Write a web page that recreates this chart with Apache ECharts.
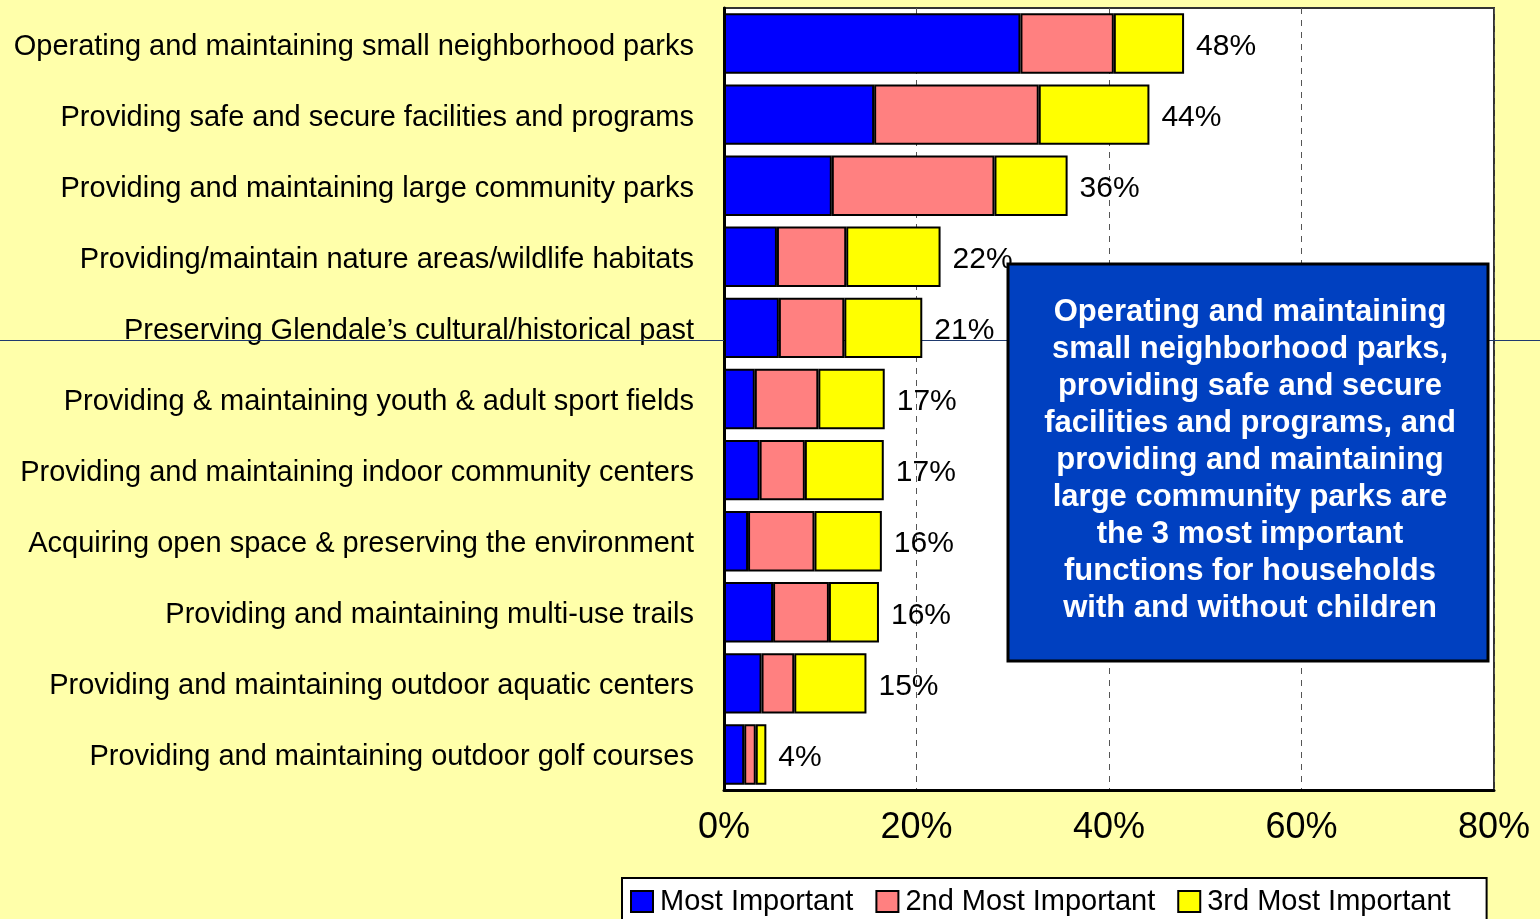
<!DOCTYPE html>
<html>
<head>
<meta charset="utf-8">
<script src="https://cdn.jsdelivr.net/npm/echarts@6/dist/echarts.min.js"></script>
<style>
  html, body { margin: 0; padding: 0; background: #ffffaa; }
  #main { width: 1540px; height: 919px; }
</style>
</head>
<body>
<div id="main"></div>
<script>
// Categorias (de arriba hacia abajo)
var categories = [
    'Operating and maintaining small neighborhood parks',
    'Providing safe and secure facilities and programs',
    'Providing and maintaining large community parks',
    'Providing/maintain nature areas/wildlife habitats',
    'Preserving Glendale\u2019s cultural/historical past',
    'Providing & maintaining youth & adult sport fields',
    'Providing and maintaining indoor community centers',
    'Acquiring open space & preserving the environment',
    'Providing and maintaining multi-use trails',
    'Providing and maintaining outdoor aquatic centers',
    'Providing and maintaining outdoor golf courses'
];
var seriesNames = ['Most Important', '2nd Most Important', '3rd Most Important'];
var mostImportant = [30.8, 15.6, 11.2, 5.5, 5.7, 3.2, 3.7, 2.5, 5.1, 3.9, 2.1];
var secondImportant = [9.7, 17.1, 16.9, 7.2, 6.8, 6.6, 4.7, 6.9, 5.8, 3.4, 1.2];
var thirdImportant = [7.3, 11.5, 7.6, 9.8, 8.1, 6.9, 8.2, 7.0, 5.2, 7.5, 1.1];
var totals = [48, 44, 36, 22, 21, 17, 17, 16, 16, 15, 4];
var xTicks = [0, 20, 40, 60, 80];

var noteText = 'Operating and maintaining\nsmall neighborhood parks,\nproviding safe and secure\nfacilities and programs, and\nproviding and maintaining\nlarge community parks are\nthe 3 most important\nfunctions for households\nwith and without children';

var font = 'Liberation Sans, Arial, sans-serif';
var colors = ['#0000ff', '#ff8080', '#ffff00'];

var grafico = echarts.init(document.getElementById('main'));

function barSerie(idx, data) {
    var s = {
        name: seriesNames[idx],
        type: 'bar',
        stack: 'total',
        barCategoryGap: '15%',
        data: data,
        itemStyle: { color: colors[idx], borderColor: '#000', borderWidth: 2 }
    };
    // Etiqueta con el total al final de la barra
    if (idx === 2) {
        s.label = {
            show: true,
            position: 'right',
            distance: 12,
            color: '#000',
            formatter: function (p) { return '{t|' + totals[p.dataIndex] + '%}'; },
            rich: { t: { fontFamily: font, fontSize: 30, color: '#000', padding: [6, 0, 0, 0] } }
        };
    }
    return s;
}

var option = {
    backgroundColor: '#ffffaa',
    animation: false,
    textStyle: { fontFamily: font },
    legend: {
        data: seriesNames,
        left: 622,
        top: 878,
        itemWidth: 22,
        itemHeight: 21,
        itemGap: 22,
        padding: [9, 36, 8, 8],
        backgroundColor: '#fff',
        borderColor: '#000',
        borderWidth: 2,
        borderRadius: 0,
        icon: 'rect',
        itemStyle: { borderColor: '#000', borderWidth: 2 },
        textStyle: { fontFamily: font, fontSize: 29, color: '#000', padding: [0, 0, 0, 2] }
    },
    grid: {
        left: 724,
        right: 46,
        top: 8,
        bottom: 129,
        show: true,
        backgroundColor: '#fff',
        borderColor: '#333',
        borderWidth: 2
    },
    xAxis: {
        type: 'value',
        min: 0,
        max: 80,
        interval: 20,
        axisLine: { show: true, lineStyle: { color: '#000', width: 3 } },
        axisTick: { show: false },
        splitLine: { show: true, lineStyle: { color: '#555', type: [6, 6], width: 1 } },
        axisLabel: {
            fontFamily: font,
            fontSize: 36,
            color: '#000',
            margin: 20,
            formatter: function (v) { return xTicks.indexOf(v) >= 0 ? v + '%' : ''; }
        }
    },
    yAxis: {
        type: 'category',
        data: categories,
        inverse: true,
        axisLine: { show: true, lineStyle: { color: '#000', width: 3 } },
        axisTick: { show: false },
        axisLabel: {
            margin: 30,
            formatter: function (v) { return '{t|' + v + '}'; },
            rich: { t: { fontFamily: font, fontSize: 29, color: '#000', padding: [6, 0, 0, 0] } }
        }
    },
    series: [
        barSerie(0, mostImportant),
        barSerie(1, secondImportant),
        barSerie(2, thirdImportant)
    ],
    graphic: [
        // Linea horizontal que cruza la diapositiva
        {
            type: 'line',
            z: 1,
            shape: { x1: 0, y1: 340.5, x2: 1540, y2: 340.5 },
            style: { stroke: '#1f3a6e', lineWidth: 1 }
        },
        // Recuadro de comentario
        {
            type: 'rect',
            z: 100,
            shape: { x: 1008, y: 264, width: 480, height: 397 },
            style: { fill: '#0040c0', stroke: '#000', lineWidth: 3 }
        },
        {
            type: 'text',
            z: 101,
            x: 1250,
            y: 460,
            style: {
                text: noteText,
                fill: '#fff',
                font: 'bold 31px Liberation Sans, Arial, sans-serif',
                lineHeight: 37,
                align: 'center',
                verticalAlign: 'middle'
            }
        }
    ]
};

grafico.setOption(option);
</script>
</body>
</html>
